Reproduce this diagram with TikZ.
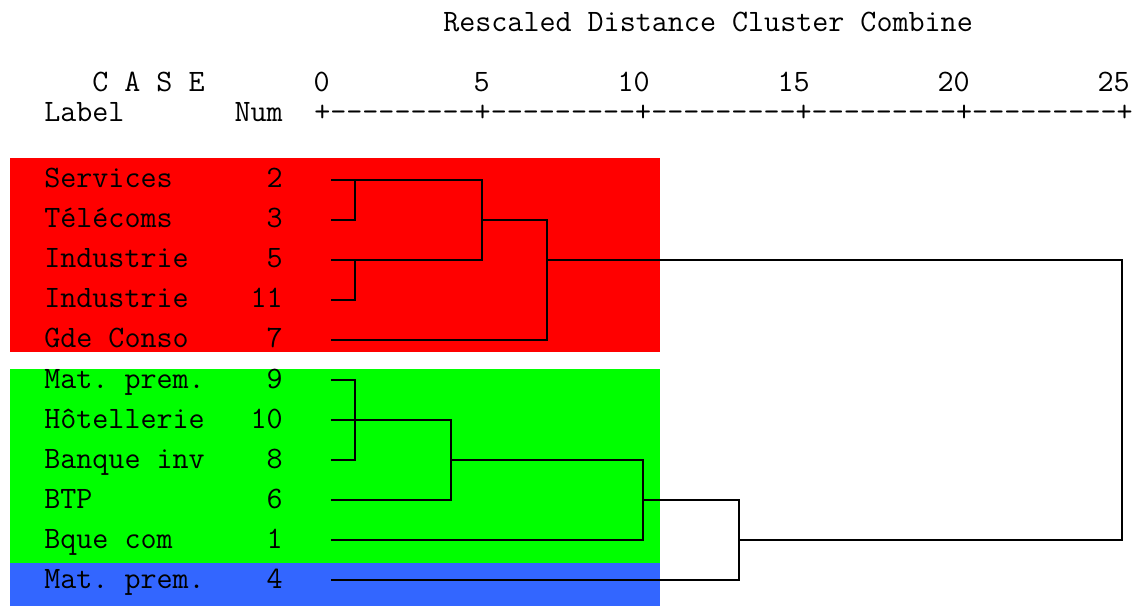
\documentclass[tikz,border=0pt]{standalone}
\usepackage{fontspec}
\definecolor{grpred}{HTML}{FF0000}
\definecolor{grpgreen}{HTML}{00FF00}
\definecolor{grpblue}{HTML}{3366FF}
\begin{document}
\frenchspacing
\begin{tikzpicture}[x=0.75pt, y=-0.75pt, font=\ttfamily\fontsize{23.37}{27}\selectfont,
  txt/.style={inner sep=0, anchor=base west},
  nr/.style={inner sep=0, anchor=base east},
  link/.style={line width=1.5pt}]
\useasboundingbox (0,0) rectangle (1133,606);
\fill[grpred] (10,158) rectangle (660,352);
\fill[grpgreen] (10,369) rectangle (660,563);
\fill[grpblue] (10,563) rectangle (660,606);
\node[txt] (title) at (443,32) {Rescaled Distance Cluster Combine};
\node[txt] (case) at (92,92) {C A S E};
\node[txt] (label) at (44,122) {Label};
\node[nr] (num) at (283,122) {Num};
\foreach \v in {0,5,...,25}
  \node[nr] (t\v) at ({330+32*\v},92) {\v};
\node[txt] (axis) at (314,122) {+---------+---------+---------+---------+---------+};
\foreach \lab/\n [count=\i from 0] in {Services/2, Télécoms/3, Industrie/5, Industrie/11, Gde Conso/7, Mat. prem./9, Hôtellerie/10, Banque inv/8, BTP/6, Bque com/1, Mat. prem./4}{
  \node[txt] (lab\n) at (44,{188+40*\i}) {\lab};
  \node[nr] (num\n) at (283,{188+40*\i}) {\n};
  \coordinate (c\n) at (331,{180+40*\i});
}
\coordinate (m1) at (355,220);
\coordinate (m2) at (355,300);
\coordinate (m3) at (355,460);
\coordinate (m4) at (482,260);
\coordinate (m5) at (547,340);
\coordinate (m6) at (451,500);
\coordinate (m7) at (643,540);
\coordinate (m8) at (739,580);
\coordinate (m9) at (1122,540);
\draw[link] (c2) -| (m1) -- (c3);
\draw[link] (c5) -| (m2) -- (c11);
\draw[link] (c2) -| (m4) -- (c5);
\draw[link] (m4 |- c3) -| (m5) -- (c7);
\draw[link] (c9) -| (m3) -- (c8);
\draw[link] (c10) -| (m6) -- (c6);
\draw[link] (m6 |- c8) -| (m7) -- (c1);
\draw[link] (m7 |- c6) -| (m8) -- (c4);
\draw[link] (m5 |- c5) -| (m9) -- (m8 |- c1);
\end{tikzpicture}
\end{document}
